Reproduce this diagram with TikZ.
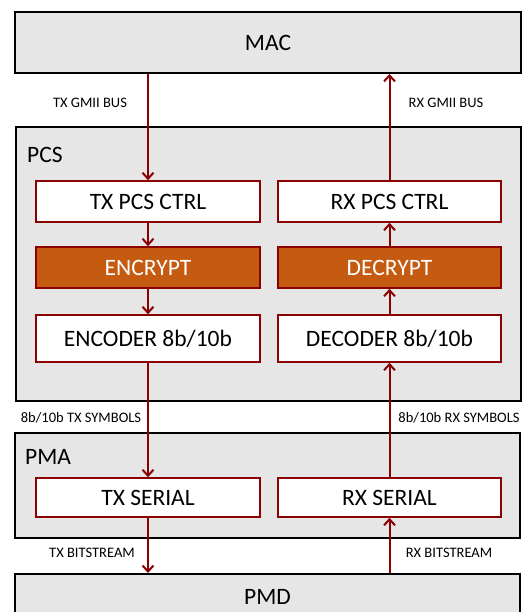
\documentclass[tikz,border=0pt]{standalone}
\usepackage{fontspec}
\setmainfont{Carlito}
\usetikzlibrary{arrows.meta}
\definecolor{dred}{RGB}{139,0,0}
\definecolor{lgray}{RGB}{230,230,230}
\definecolor{orng}{RGB}{197,90,17}
\tikzset{
  layer/.style={draw=black, line width=2pt, fill=lgray, inner sep=0pt, font=\fontsize{23.5}{26}\selectfont},
  blk/.style={draw=dred, line width=1.6pt, fill=white, inner sep=0pt, font=\fontsize{23.5}{26}\selectfont},
  oblk/.style={blk, fill=orng, text=white},
  arr/.style={draw=dred, line width=2pt, -{Straight Barb[length=6pt,width=11pt,line width=2pt]}},
  lbl/.style={font=\fontsize{14.5}{16}\selectfont, inner sep=0pt},
  ttl/.style={font=\fontsize{23.5}{26}\selectfont, inner sep=0pt, anchor=west}
}
\begin{document}
\begin{tikzpicture}[x=1pt,y=-1pt]
\clip (0,0) rectangle (525,612);
\fill[white] (0,0) rectangle (525,612);
% layers
\node[layer, minimum width=506pt, minimum height=61pt] (mac) at (268,42.5) {MAC};
\node[layer, minimum width=505pt, minimum height=274pt] (pcs) at (268.5,264) {};
\node[layer, minimum width=505pt, minimum height=105pt] (pma) at (267.5,485.5) {};
\node[layer, minimum width=505pt, minimum height=46pt] (pmd) at (267.5,597) {PMD};
\node[ttl] (pcst) at (27,155) {PCS};
\node[ttl] (pmat) at (25,457) {PMA};
% TX column
\node[blk, minimum width=224pt, minimum height=41pt] (txctrl) at (148,201.5) {TX PCS CTRL};
\node[oblk, minimum width=224pt, minimum height=41pt] (enc) at (148,267.5) {ENCRYPT};
\node[blk, minimum width=224pt, minimum height=47pt] (encoder) at (148,338.5) {ENCODER 8b/10b};
\node[blk, minimum width=224pt, minimum height=39pt] (txser) at (148,497.5) {TX SERIAL};
% RX column
\node[blk, minimum width=223pt, minimum height=41pt] (rxctrl) at (389.5,201.5) {RX PCS CTRL};
\node[oblk, minimum width=223pt, minimum height=41pt] (dec) at (389.5,267.5) {DECRYPT};
\node[blk, minimum width=223pt, minimum height=47pt] (decoder) at (389.5,338.5) {DECODER 8b/10b};
\node[blk, minimum width=223pt, minimum height=39pt] (rxser) at (389.5,497.5) {RX SERIAL};
% TX arrows
\draw[arr] (txctrl.north |- mac.south) -- (txctrl.north);
\draw[arr] (txctrl) -- (enc);
\draw[arr] (enc) -- (encoder);
\draw[arr] (encoder) -- (txser);
\draw[arr] (txser.south) -- (txser.south |- pmd.north);
% RX arrows
\draw[arr] (rxser.south |- pmd.north) -- (rxser.south);
\draw[arr] (rxser) -- (decoder);
\draw[arr] (decoder) -- (dec);
\draw[arr] (dec) -- (rxctrl);
\draw[arr] (rxctrl.north) -- (rxctrl.north |- mac.south);
% labels
\node[lbl] (l1) at (90,103) {TX GMII BUS};
\node[lbl] (l2) at (446,103) {RX GMII BUS};
\node[lbl] (l3) at (81,418) {8b/10b TX SYMBOLS};
\node[lbl] (l4) at (459,418) {8b/10b RX SYMBOLS};
\node[lbl] (l5) at (92,553) {TX BITSTREAM};
\node[lbl] (l6) at (449,553) {RX BITSTREAM};
\end{tikzpicture}
\end{document}
